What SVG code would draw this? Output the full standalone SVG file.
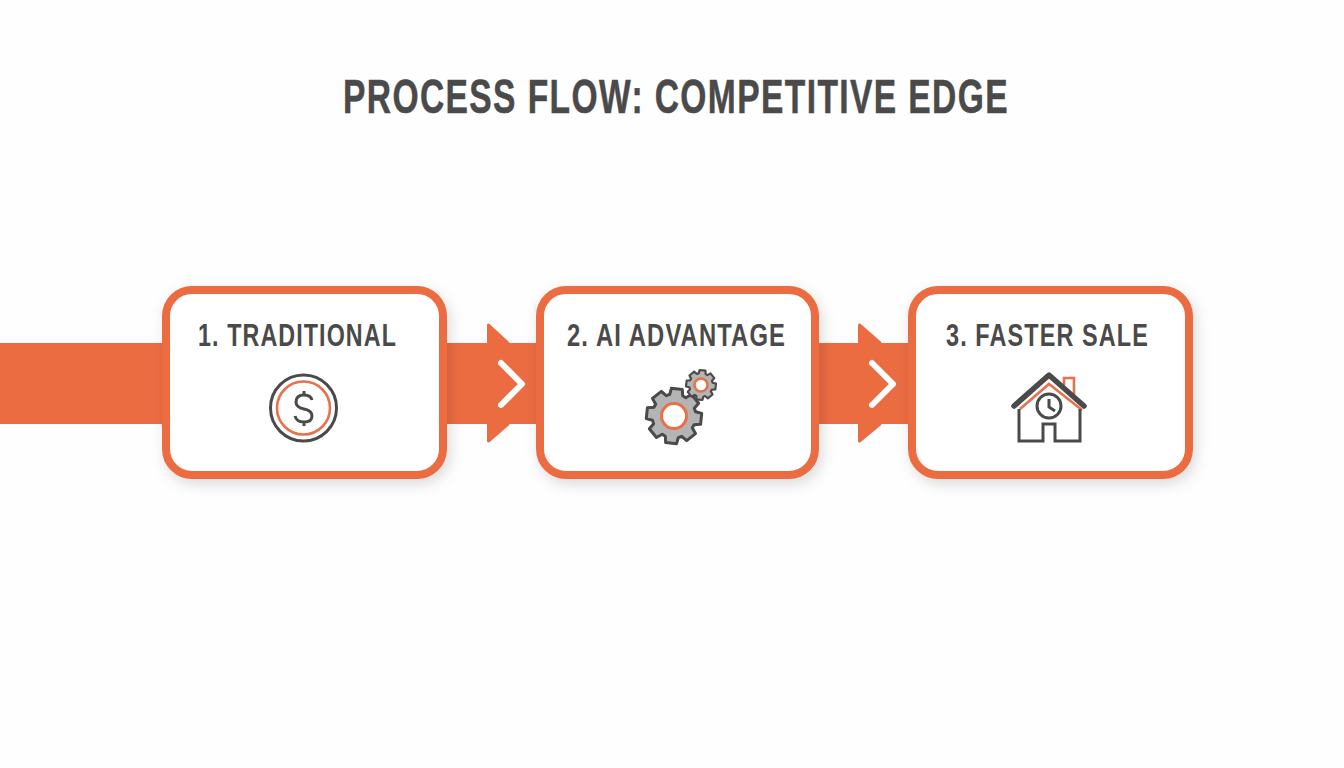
<svg xmlns="http://www.w3.org/2000/svg" width="1344" height="768" viewBox="0 0 1344 768">
<style>
.t{font-family:"Liberation Sans",Arial,sans-serif;font-weight:700;fill:#4a4a4a}
.h{font-size:48px;letter-spacing:2px;stroke:#4a4a4a;stroke-width:.5}
.l{font-size:32px;letter-spacing:1.500px}
.card{fill:#fff;stroke:#ec6c42;stroke-width:8;filter:url(#sh)}
.dk{fill:none;stroke:#4a4a4a;stroke-width:3}
.or{fill:none;stroke:#e8704a;stroke-width:2.600}
.chev{fill:none;stroke:#fff;stroke-width:6;stroke-linecap:round;stroke-linejoin:round}
.band{fill:#ec6c42}
.gear{fill:#b4b4b4;stroke:#4a4a4a;stroke-linejoin:round}
</style>
<defs>
<filter id="sh" x="-15%" y="-15%" width="130%" height="135%"><feDropShadow dx="3" dy="5" stdDeviation="7" flood-color="#000" flood-opacity=".14"/></filter>
<path id="g" d="M21-6.500L27.300-5.500L27.300 5.500L21 6.500L19.400 9.800L23.200 15.200L15.200 23.200L9.800 19.400L6.500 21L5.500 27.300L-5.500 27.300L-6.500 21L-9.800 19.400L-15.200 23.200L-23.200 15.200L-19.400 9.800L-21 6.500L-27.300 5.500L-27.300-5.500L-21-6.500L-19.400-9.800L-23.200-15.200L-15.200-23.200L-9.800-19.400L-6.500-21L-5.500-27.300L5.500-27.300L6.500-21L9.800-19.400L15.200-23.200L23.200-15.200L19.400-9.800Z"/>
</defs>
<rect width="1344" height="768" fill="#fefefe"/>
<text class="t h" x="343" y="113" textLength="666" lengthAdjust="spacingAndGlyphs">PROCESS FLOW: COMPETITIVE EDGE</text>
<g id="connectors">
<rect class="band" x="0" y="343" width="170" height="81"/>
<g id="c1"><rect class="band" x="440" y="343" width="104" height="81"/>
<path class="band" stroke="#ec6c42" stroke-width="3" stroke-linejoin="round" d="M488.500 325L508 343V424L488.500 441Z"/>
<path class="chev" d="M501 363L522 384L501 405"/></g>
<g id="c2"><rect class="band" x="812" y="343" width="104" height="81"/>
<path class="band" stroke="#ec6c42" stroke-width="3" stroke-linejoin="round" d="M859.500 325L880 343V424L859.500 441Z"/>
<path class="chev" d="M872 363L893 384L872 405"/></g>
</g>
<g id="node1">
<rect class="card" x="166" y="290" width="277" height="185" rx="26"/>
<text class="t l" x="198" y="346" textLength="199" lengthAdjust="spacingAndGlyphs">1. TRADITIONAL</text>
<circle class="dk" cx="303.500" cy="408" r="33"/>
<circle class="or" cx="303.500" cy="408" r="26.500"/>
<path class="dk" d="M312 400C311 396 308 395 304 395C298 395 296 398 296 402C296 406 299 408 304 409C309 410 312 412 312 416C312 420 309 422 304 422C299 422 296 420 295 416M304 391V395M304 422V426"/>
</g>
<g id="node2">
<rect class="card" x="540" y="290" width="275" height="185" rx="26"/>
<text class="t l" x="567" y="346" textLength="219" lengthAdjust="spacingAndGlyphs">2. AI ADVANTAGE</text>
<use href="#g" class="gear" stroke-width="3" transform="translate(674 416) rotate(6)"/>
<circle cx="674" cy="416" r="12.500" fill="#fff" stroke="#e8704a" stroke-width="3"/>
<use href="#g" class="gear" stroke-width="4" transform="translate(701 385) rotate(6) scale(.54)"/>
<circle cx="701" cy="385" r="6.500" fill="#fff" stroke="#e8704a" stroke-width="2.600"/>
</g>
<g id="node3">
<rect class="card" x="912" y="290" width="277" height="185" rx="26"/>
<text class="t l" x="946" y="346" textLength="203" lengthAdjust="spacingAndGlyphs">3. FASTER SALE</text>
<path class="or" d="M1064 385V378H1074V395M1020 409L1049 384L1082 410"/>
<path d="M1014 406L1049 375L1084 406" fill="none" stroke="#4a4a4a" stroke-width="5.500" stroke-linecap="round" stroke-linejoin="round"/>
<path class="dk" d="M1019 409V441H1043V424H1055V441H1080V409"/>
<circle class="dk" cx="1049" cy="406" r="12"/>
<path class="dk" d="M1049 399V407L1055 411"/>
</g>
</svg>
